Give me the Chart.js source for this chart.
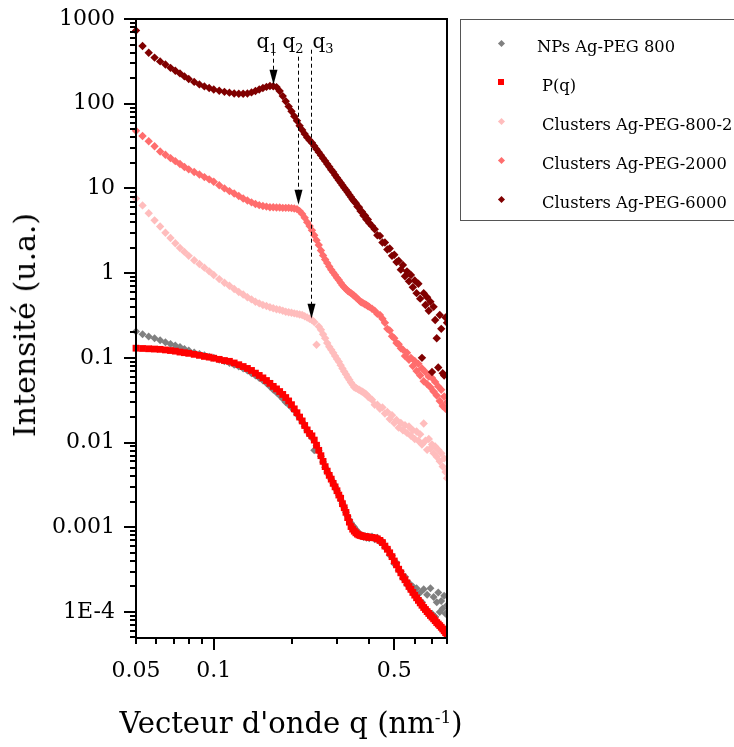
<!DOCTYPE html>
<html>
<head>
<meta charset="utf-8">
<script src="https://cdn.jsdelivr.net/npm/chart.js@4.4.0/dist/chart.umd.min.js"></script>
<style>
html,body{margin:0;padding:0;background:#fff;}
#wrap{position:relative;width:734px;height:747px;overflow:hidden;font-family:"DejaVu Serif",serif;color:#000;}
#c{position:absolute;left:0;top:0;}
#legendBox{position:absolute;left:460px;top:19px;width:300px;height:202px;border:1px solid #555;box-sizing:border-box;}
.lgItem{position:absolute;font-size:16.3px;line-height:20px;white-space:nowrap;}
.lgMark{position:absolute;}
#ytitle{position:absolute;left:25px;top:325px;font-size:30px;line-height:32px;white-space:nowrap;transform:translate(-50%,-50%) rotate(-90deg);}
#xtitle{position:absolute;left:291px;top:706px;font-size:29px;line-height:34px;white-space:nowrap;transform:translateX(-50%);}
#xtitle span{font-size:17px;position:relative;top:-10px;}
</style>
</head>
<body>
<div id="wrap">
  <canvas id="c" width="734" height="747"></canvas>
  <div id="legendBox"></div>
  <div id="ytitle">Intensité (u.a.)</div>
  <div id="xtitle">Vecteur d'onde q (nm<span>-1</span>)</div>
</div>
<script>
// ---------------- DATA ----------------
const q = [
  0.050,0.053,0.056,0.059,0.062,0.065,0.068,0.071,0.074,0.077,0.080,0.084,0.088,0.092,0.096,0.100,
  0.105,0.110,0.115,0.120,0.125,0.130,0.135,0.140,0.145,0.150,
  0.155,0.160,0.165,0.170,0.175,0.180,0.185,0.190,0.195,0.200,
  0.205,0.210,0.215,0.220,0.225,0.230,0.235,0.240,0.245,0.250,
  0.255,0.260,0.265,0.270,0.275,0.280,0.285,0.290,0.295,0.300,
  0.305,0.310,0.315,0.320,0.325,0.330,0.335,0.340,0.345,0.350,
  0.355,0.360,0.365,0.370,0.375,0.380,0.385,0.390,0.395,0.400,
  0.41,0.42,0.43,0.44,0.45,0.46,0.47,0.48,0.49,0.50,
  0.51,0.52,0.53,0.54,0.55,0.56,0.57,0.58,0.59,0.60,
  0.61,0.62,0.63,0.64,0.65,0.66,0.67,0.68,0.69,0.70,
  0.71,0.72,0.73,0.74,0.75,0.76,0.77,0.78,0.79,0.80
];

const npsAgPeg800 = [
  0.205,0.19,0.179,0.17,0.161,0.153,0.146,0.14,0.134,0.127,0.122,0.116,0.111,0.107,0.103,0.1,
  0.095,0.091,0.087,0.083,0.079,0.075,0.071,0.066,0.062,0.058,
  0.054,0.05,0.046,0.042,0.039,0.036,0.033,0.03,0.028,0.026,
  0.024,0.0215,0.0195,0.0175,0.0155,0.0138,0.0124,0.0113,0.0081,0.0092,
  0.008,0.0069,0.0059,0.0051,0.0045,0.0041,0.0037,0.0033,0.003,0.0027,
  0.0024,0.0021,0.0019,0.0017,0.0015,0.00135,0.00122,0.00112,0.00105,0.001,
  0.00094,0.00088,0.00085,0.00082,0.0008,0.00077,0.00079,0.00075,0.00078,0.00074,
  0.00078,0.00072,0.00075,0.00067,0.00068,0.00058,0.00056,0.00047,0.00046,0.00037,
  0.00038,0.00031,0.0003,0.00025,0.00026,0.00021,0.00022,0.00018,0.0002,0.00016,
  0.00019,0.00014,0.00017,0.00013,0.000185,0.00011,0.00016,0.0001,0.00019,0.000095,
  0.00015,0.000088,0.00013,0.00017,0.0001,0.000135,0.00011,0.000155,0.000095,0.00012
];

const pOfQ = [
  0.130,0.129,0.128,0.127,0.126,0.124,0.122,0.120,0.117,0.115,0.113,0.110,0.107,0.104,0.102,0.099,
  0.096,0.093,0.091,0.087,0.083,0.079,0.075,0.071,0.066,0.062,
  0.058,0.054,0.050,0.046,0.043,0.040,0.037,0.034,0.031,0.028,
  0.025,0.0225,0.020,0.018,0.0159,0.0141,0.0128,0.012,0.0107,0.0093,
  0.0081,0.007,0.006,0.0052,0.0046,0.0041,0.0037,0.0033,0.003,0.0027,
  0.0024,0.0022,0.0019,0.0017,0.0015,0.0013,0.00115,0.00102,0.00095,0.0009,
  0.00086,0.00083,0.00081,0.0008,0.00079,0.00078,0.00078,0.00077,0.00077,0.00076,
  0.00076,0.00075,0.00073,0.0007,0.00066,0.0006,0.00055,0.0005,0.00045,0.0004,
  0.00036,0.00032,0.00029,0.00026,0.00024,0.00022,0.0002,0.000185,0.00017,0.000158,
  0.000147,0.000137,0.000128,0.00012,0.000113,0.000107,0.000101,0.000096,0.000091,0.000087,
  0.000083,0.000079,0.000075,0.000072,0.000069,0.000066,0.000063,0.00006,0.000057,0.000055
];

const clusters800_2 = [
  7.6,6.3,5.1,4.2,3.55,3.0,2.6,2.25,1.98,1.78,1.6,1.42,1.28,1.16,1.05,0.95,
  0.85,0.77,0.71,0.65,0.6,0.56,0.52,0.49,0.46,0.44,
  0.42,0.41,0.395,0.385,0.375,0.37,0.36,0.35,0.345,0.34,
  0.335,0.33,0.325,0.32,0.31,0.3,0.29,0.28,0.265,0.143,
  0.235,0.215,0.19,0.17,0.15,0.135,0.125,0.115,0.105,0.097,
  0.09,0.082,0.075,0.069,0.064,0.059,0.055,0.051,0.048,0.045,
  0.044,0.043,0.042,0.041,0.04,0.039,0.038,0.037,0.035,0.034,
  0.032,0.028,0.028,0.025,0.026,0.022,0.023,0.019,0.021,0.017,
  0.0185,0.015,0.017,0.014,0.016,0.013,0.0155,0.012,0.014,0.011,
  0.0135,0.0105,0.0125,0.0095,0.0168,0.0105,0.0082,0.011,0.0085,0.0095,
  0.0075,0.009,0.0068,0.0082,0.006,0.0075,0.0052,0.0065,0.0045,0.0038
];

const clusters2000 = [
  48,41.5,36,31.5,27.3,25,22.8,21,19.4,17.9,16.8,15.6,14.6,13.6,12.8,12.0,
  10.9,10.0,9.3,8.7,8.15,7.6,7.2,6.85,6.55,6.35,
  6.2,6.1,6.0,6.0,5.95,5.95,5.9,5.9,5.9,5.85,
  5.8,5.7,5.4,5.0,4.5,4.0,3.6,3.2,2.8,2.45,
  2.15,1.85,1.62,1.45,1.32,1.2,1.1,1.02,0.95,0.88,
  0.83,0.77,0.72,0.68,0.65,0.62,0.6,0.58,0.56,0.54,
  0.52,0.5,0.48,0.46,0.45,0.44,0.43,0.42,0.41,0.4,
  0.38,0.36,0.33,0.32,0.29,0.26,0.22,0.21,0.18,0.17,
  0.15,0.145,0.13,0.125,0.105,0.115,0.095,0.1,0.08,0.092,
  0.07,0.085,0.062,0.075,0.053,0.068,0.049,0.06,0.045,0.058,
  0.04,0.052,0.036,0.046,0.031,0.042,0.027,0.035,0.025,0.03
];

const clusters6000 = [
  730,480,400,350,316,290,265,245,228,210,196,181,169,160,153,147,
  142,138,135,132,131,131,132,136,141,147,
  153,158,162,161,157,141,123,107,93,81.5,
  71,63,55,49,44,40,37,34.5,31.7,29.1,
  26.8,24.7,22.7,21.1,19.4,18.0,16.6,15.6,14.4,13.4,
  12.5,11.7,10.9,10.2,9.6,9.0,8.4,7.9,7.4,7.0,
  6.7,6.1,6.0,5.4,5.3,4.8,4.8,4.3,4.3,3.9,
  3.6,3.3,2.8,2.75,2.3,2.3,1.9,1.95,1.6,1.65,
  1.35,1.4,1.1,1.25,0.92,1.05,0.8,0.95,0.68,0.82,
  0.58,0.75,0.5,0.1,0.58,0.42,0.52,0.36,0.46,0.068,
  0.4,0.28,0.17,0.077,0.32,0.22,0.066,0.062,0.3,0.26
];

const seriesLabels = ['NPs Ag-PEG 800', 'P(q)', 'Clusters Ag-PEG-800-2', 'Clusters Ag-PEG-2000', 'Clusters Ag-PEG-6000'];

const xTickValues = [0.05, 0.1, 0.5];
const xTickLabels = ['0.05', '0.1', '0.5'];
const xMajorTickMarks = [0.1, 0.5];
const xMinorTickMarks = [0.05, 0.06, 0.07, 0.08, 0.09, 0.2, 0.3, 0.4, 0.6, 0.7, 0.8];
const yTickValues = [1000, 100, 10, 1, 0.1, 0.01, 0.001, 0.0001];
const yTickLabels = ['1000', '100', '10', '1', '0.1', '0.01', '0.001', '1E-4'];

// q1, q2, q3 annotations (arrow x position, start and tip intensities)
const annotQ = [0.170, 0.212, 0.238];
const annotFrom = [411, 359, 434];
const annotTo = [167, 6.4, 0.29];
const annotSub = ['1', '2', '3'];

// ---------------- STYLE ----------------
const X_MIN = 0.05, X_MAX = 0.8, Y_MIN = 4.93e-5, Y_MAX = 1000;
const styles = [
  {color: '#808080', shape: 'rectRot', r: 4, order: 5},
  {color: '#ff0000', shape: 'rect', r: 4.8, order: 1},
  {color: '#ffbdbd', shape: 'rectRot', r: 4.2, order: 4},
  {color: '#ff6d6d', shape: 'rectRot', r: 4.2, order: 3},
  {color: '#800000', shape: 'rectRot', r: 4.2, order: 2}
];
const labelDx = [-17, -16, 1];
const seriesValues = [npsAgPeg800, pOfQ, clusters800_2, clusters2000, clusters6000];

Chart.defaults.font.family = '"DejaVu Serif", serif';
Chart.defaults.color = '#000';

const datasets = seriesValues.map((vals, i) => ({
  label: seriesLabels[i],
  data: q.map((x, k) => ({x: x, y: vals[k]})),
  backgroundColor: styles[i].color,
  borderColor: styles[i].color,
  pointStyle: styles[i].shape,
  pointRadius: styles[i].r,
  pointHoverRadius: styles[i].r,
  pointBorderWidth: 0,
  showLine: false,
  order: styles[i].order,
  clip: {left: 4, top: 2, right: 1, bottom: 1}
}));

const decor = {
  id: 'decor',
  afterDatasetsDraw(chart) {
    const {ctx, chartArea: a, scales} = chart;
    const xs = scales.x, ys = scales.y;
    ctx.save();
    ctx.strokeStyle = '#000';
    ctx.lineWidth = 2;
    ctx.beginPath();
    yTickValues.forEach(v => {
      const py = Math.round(ys.getPixelForValue(v));
      ctx.moveTo(a.left - 12, py); ctx.lineTo(a.left, py);
    });
    for (let e = -5; e <= 2; e++) {
      for (let k = 2; k <= 9; k++) {
        const v = k * Math.pow(10, e);
        if (v < Y_MIN || v > Y_MAX) continue;
        const py = Math.round(ys.getPixelForValue(v));
        ctx.moveTo(a.left - 6, py); ctx.lineTo(a.left, py);
      }
    }
    xMajorTickMarks.forEach(v => {
      const px = Math.round(xs.getPixelForValue(v));
      ctx.moveTo(px, a.bottom); ctx.lineTo(px, a.bottom + 12);
    });
    xMinorTickMarks.forEach(v => {
      const px = Math.round(xs.getPixelForValue(v));
      ctx.moveTo(px, a.bottom); ctx.lineTo(px, a.bottom + 6);
    });
    ctx.stroke();
    ctx.lineWidth = 2;
    ctx.strokeRect(a.left, a.top, a.right - a.left, a.bottom - a.top);

    ctx.fillStyle = '#000';
    ctx.strokeStyle = '#000';
    annotQ.forEach((qq, i) => {
      const px = Math.round(xs.getPixelForValue(qq)) + 0.5;
      const y1 = ys.getPixelForValue(annotFrom[i]);
      const y2 = ys.getPixelForValue(annotTo[i]);
      const head = 15;
      ctx.beginPath();
      ctx.setLineDash([4, 3]);
      ctx.lineWidth = 1;
      ctx.moveTo(px, y1); ctx.lineTo(px, y2 - head + 1);
      ctx.stroke();
      ctx.setLineDash([]);
      ctx.beginPath();
      ctx.moveTo(px - 4, y2 - head);
      ctx.lineTo(px + 4, y2 - head);
      ctx.lineTo(px, y2);
      ctx.closePath();
      ctx.fill();
      const lx = px + labelDx[i];
      const ly = a.top + 29;
      ctx.font = '20px "DejaVu Serif", serif';
      ctx.textBaseline = 'alphabetic';
      ctx.textAlign = 'left';
      ctx.fillText('q', lx, ly);
      const w = ctx.measureText('q').width;
      ctx.font = '13px "DejaVu Serif", serif';
      ctx.fillText(annotSub[i], lx + w, ly + 5);
    });
    ctx.restore();
  }
};

new Chart(document.getElementById('c'), {
  type: 'scatter',
  data: {datasets},
  options: {
    responsive: false,
    animation: false,
    devicePixelRatio: 1,
    layout: {padding: {left: 0, top: 19, right: 287, bottom: 0}},
    plugins: {legend: {display: false}, tooltip: {enabled: false}, title: {display: false}},
    scales: {
      x: {
        type: 'logarithmic',
        min: X_MIN, max: X_MAX,
        border: {display: false},
        grid: {display: false, drawTicks: false},
        afterBuildTicks: (s) => { s.ticks = xTickValues.map(v => ({value: v})); },
        afterFit: (s) => { s.height = 109; s.paddingLeft = 0; s.paddingRight = 0; },
        ticks: {
          autoSkip: false, maxRotation: 0, padding: 20,
          font: {size: 22},
          callback: (v) => { const i = xTickValues.indexOf(v); return i >= 0 ? xTickLabels[i] : ''; }
        }
      },
      y: {
        type: 'logarithmic',
        min: Y_MIN, max: Y_MAX,
        border: {display: false},
        grid: {display: false, drawTicks: false},
        afterBuildTicks: (s) => { s.ticks = yTickValues.map(v => ({value: v})); },
        afterFit: (s) => { s.width = 136; s.paddingTop = 0; s.paddingBottom = 0; },
        ticks: {
          autoSkip: false, padding: 21,
          font: {size: 22},
          callback: (v) => { const i = yTickValues.indexOf(v); return i >= 0 ? yTickLabels[i] : ''; }
        }
      }
    }
  },
  plugins: [decor]
});

// ---------------- LEGEND (HTML) ----------------
const wrap = document.getElementById('wrap');
const legendTextX = [537, 542, 542, 542, 542];
seriesLabels.forEach((lab, i) => {
  const cy = 43 + 39 * i;
  const m = document.createElement('div');
  m.className = 'lgMark';
  const st = styles[i];
  if (st.shape === 'rect') {
    m.style.cssText = `left:${501 - 3}px;top:${cy - 3}px;width:6px;height:6px;background:${st.color};`;
  } else {
    m.style.cssText = `left:${501 - 2.5}px;top:${cy - 2.5}px;width:5px;height:5px;background:${st.color};transform:rotate(45deg);`;
  }
  wrap.appendChild(m);
  const t = document.createElement('div');
  t.className = 'lgItem';
  t.style.left = legendTextX[i] + 'px';
  t.style.top = (cy + 4 - 10) + 'px';
  t.textContent = lab;
  wrap.appendChild(t);
});
</script>
</body>
</html>
